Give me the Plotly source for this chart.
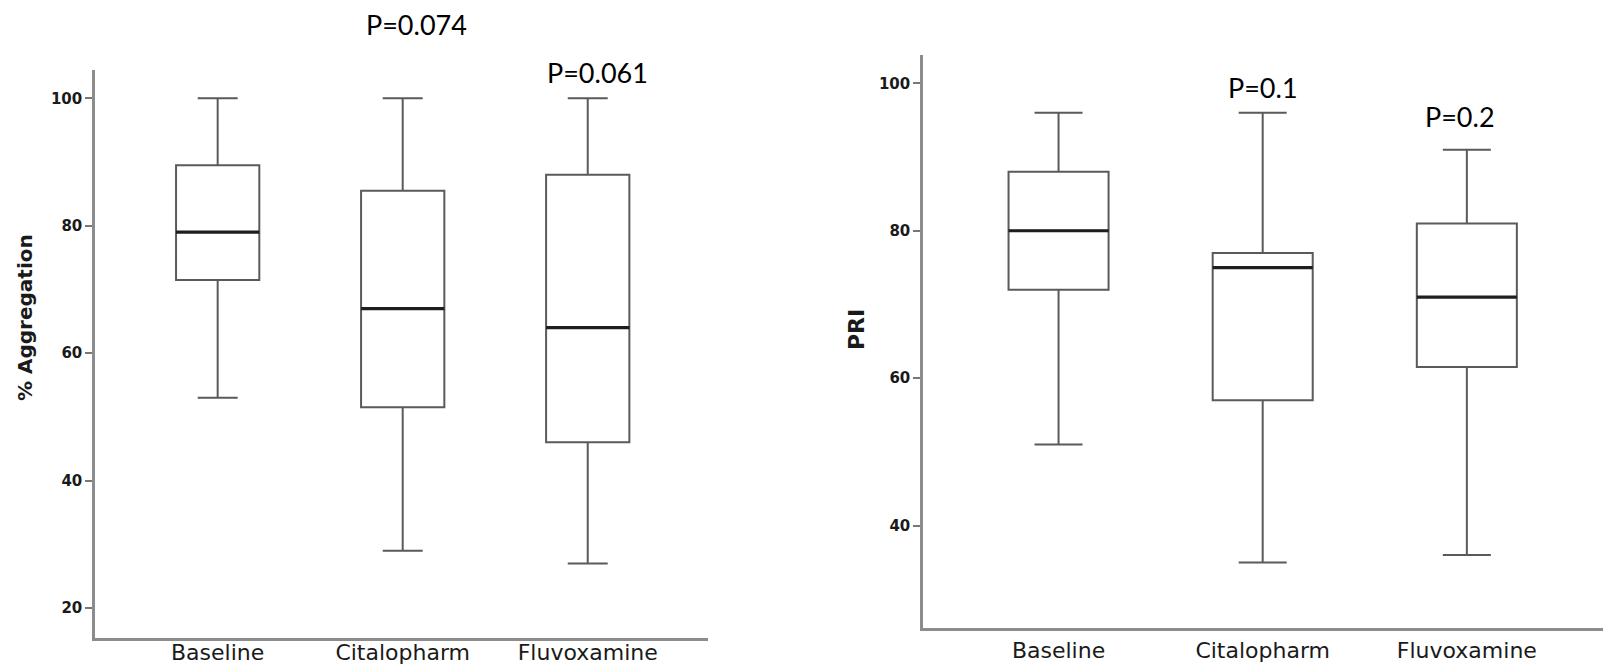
import plotly.graph_objects as go

# ---------------- data ----------------
categories = ["Baseline", "Citalopharm", "Fluvoxamine"]

# Left panel: % Aggregation
agg_low = [53, 29, 27]
agg_q1 = [71.5, 51.5, 46]
agg_median = [79, 67, 64]
agg_q3 = [89.5, 85.5, 88]
agg_high = [100, 100, 100]

# Right panel: PRI
pri_low = [51, 35, 36]
pri_q1 = [72, 57, 61.5]
pri_median = [80, 75, 71]
pri_q3 = [88, 77, 81]
pri_high = [96, 96, 91]

agg_ticks = [20, 40, 60, 80, 100]
pri_ticks = [40, 60, 80, 100]

agg_pvalues = ["P=0.074", "P=0.061"]
pri_pvalues = ["P=0.1", "P=0.2"]

# ---------------- figure ----------------
W, H = 1603, 666
BOX_LINE = "#5a5a5a"
MEDIAN_LINE = "#1e1e1e"
AXIS_LINE = "#8c8c8c"
TEXT = "#1a1a1a"


def px(x):
    return x / W


def py(y):
    return (H - y) / H


fig = go.Figure()

left_w = 0.45
right_w = 0.49

fig.add_trace(go.Box(
    x=categories, q1=agg_q1, median=agg_median, q3=agg_q3,
    lowerfence=agg_low, upperfence=agg_high,
    width=left_w, whiskerwidth=0.48, fillcolor="white",
    line=dict(color=BOX_LINE, width=2), boxpoints=False,
    xaxis="x", yaxis="y", showlegend=False, hoverinfo="skip",
))
fig.add_trace(go.Box(
    x=categories, q1=pri_q1, median=pri_median, q3=pri_q3,
    lowerfence=pri_low, upperfence=pri_high,
    width=right_w, whiskerwidth=0.48, fillcolor="white",
    line=dict(color=BOX_LINE, width=2), boxpoints=False,
    xaxis="x2", yaxis="y2", showlegend=False, hoverinfo="skip",
))

# thicker median lines, derived from the median arrays
for i, m in enumerate(agg_median):
    fig.add_shape(type="line", xref="x", yref="y",
                  x0=i - left_w / 2, x1=i + left_w / 2, y0=m, y1=m,
                  line=dict(color=MEDIAN_LINE, width=3.2))
for i, m in enumerate(pri_median):
    fig.add_shape(type="line", xref="x2", yref="y2",
                  x0=i - right_w / 2, x1=i + right_w / 2, y0=m, y1=m,
                  line=dict(color=MEDIAN_LINE, width=3.2))

tickfont = dict(family="DejaVu Sans", size=15, color=TEXT, weight="bold")
xtickfont = dict(family="DejaVu Sans", size=22, color=TEXT)

common_x = dict(showgrid=False, zeroline=False, showline=True,
                linecolor=AXIS_LINE, linewidth=2.5, ticks="",
                tickfont=xtickfont, type="category", fixedrange=True,
                automargin=False)
common_y = dict(showgrid=False, zeroline=False, showline=True,
                linecolor=AXIS_LINE, linewidth=2.5,
                ticks="outside", ticklen=7, tickwidth=1.5,
                tickcolor="#777777", tickfont=tickfont, fixedrange=True,
                automargin=False)

fig.update_layout(
    width=W, height=H, autosize=False,
    margin=dict(l=0, r=0, t=0, b=0, autoexpand=False),
    paper_bgcolor="white", plot_bgcolor="white",
    xaxis=dict(domain=[px(95), px(708)], range=[-0.663, 2.65],
               anchor="y", ticklabelstandoff=-7, **common_x),
    yaxis=dict(domain=[py(638), py(69.6)], range=[15.3, 104.5],
               tickvals=agg_ticks, anchor="x", **common_y),
    xaxis2=dict(domain=[px(923), 1.0], range=[-0.664, 2.667],
                anchor="y2", ticklabelstandoff=1, **common_x),
    yaxis2=dict(domain=[py(628), py(55)], range=[26.1, 103.85],
                tickvals=pri_ticks, anchor="x2", **common_y),
)

pfont = dict(family="Lato", size=27, color="black")
p_positions = [(416.5, 24.5), (597, 72.5), (1263, 87), (1460, 116.7)]
for txt, (xx, yy) in zip(agg_pvalues + pri_pvalues, p_positions):
    fig.add_annotation(text=txt, xref="paper", yref="paper",
                       x=px(xx), y=py(yy), xanchor="center", yanchor="middle",
                       showarrow=False, font=pfont)

fig.add_annotation(text="% Aggregation", xref="paper", yref="paper",
                   x=px(25), y=py(318), textangle=-90,
                   xanchor="center", yanchor="middle", showarrow=False,
                   font=dict(family="DejaVu Sans", size=20, color=TEXT,
                             weight="bold"))
fig.add_annotation(text="PRI", xref="paper", yref="paper",
                   x=px(856), y=py(330), textangle=-90,
                   xanchor="center", yanchor="middle", showarrow=False,
                   font=dict(family="DejaVu Sans", size=22, color=TEXT,
                             weight="bold"))

fig.write_html(
    "out.html",
    config={"displayModeBar": False},
    post_script="document.documentElement.style.margin='0px';"
                "document.body.style.margin='0px';",
)
